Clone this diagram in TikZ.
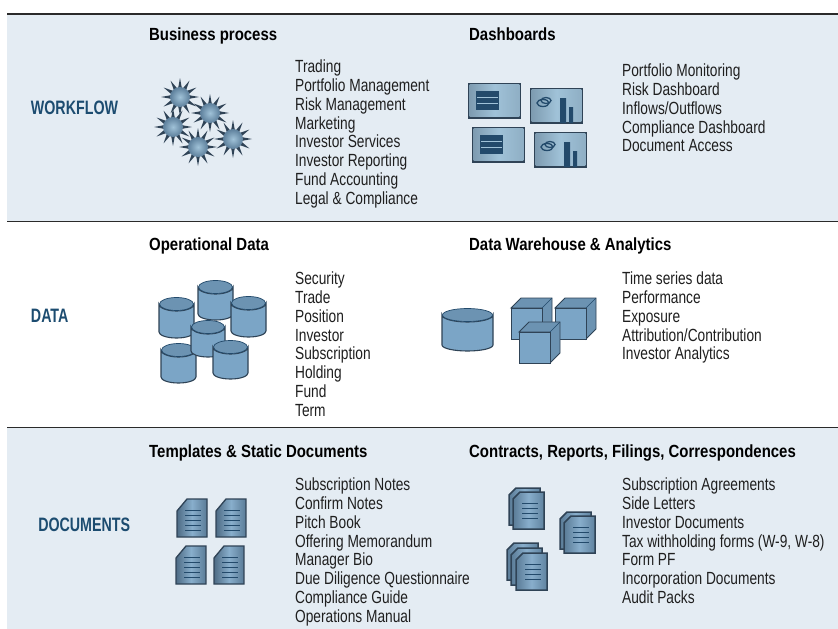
\documentclass[tikz,border=0pt]{standalone}
\usepackage{fontspec}
\setmainfont{Liberation Sans}
\usetikzlibrary{calc}
\definecolor{bandc}{HTML}{E4ECF3}
\definecolor{titlec}{HTML}{1C4C70}
\definecolor{darkc}{HTML}{2F4356}
\definecolor{midc}{HTML}{7BA5C6}
\definecolor{lidc}{HTML}{6C93B2}
\definecolor{lightc}{HTML}{A0C2D8}
\definecolor{linec}{HTML}{234A6B}
\definecolor{rulec}{HTML}{2A2A2A}
\tikzset{x=1pt,y=-1pt,
 head/.style={font=\fontsize{17.6}{20}\selectfont\bfseries,anchor=base west,inner sep=0,text=black,xscale=.85,transform shape},
 sect/.style={font=\fontsize{19.4}{20}\selectfont\bfseries,anchor=base,inner sep=0,text=titlec,xscale=.735,transform shape},
 items/.style={font=\fontsize{17.6}{18.75}\selectfont,anchor=north west,inner sep=0,align=left,text=black!88,xscale=.78,transform shape},
 rule/.style={draw=rulec,line width=1.1pt}}
\newcommand{\mystar}[2]{\begin{scope}[shift={(#1,#2)}]
 \fill[darkc] (0:19) \foreach \a in {30,60,...,330}{ -- (\a-15:8) -- (\a:19)} -- (345:8) -- cycle;
 \shade[inner color=lightc,outer color=lidc!75!darkc] (0,0) circle (10);
 \end{scope}}
\newcommand{\mydash}[3]{\begin{scope}[shift={(#1,#2)}]
 \fill[darkc] (0,0) rectangle (53,36);
 \shade[left color=lightc!70!darkc,right color=lightc!85!darkc,middle color=lightc] (1.7,1.7) rectangle (51.3,33.8);
 \ifnum#3=0
  \fill[linec] (7.5,8) rectangle (31,27);
  \draw[lightc,line width=.7pt] (9,14.5) -- (29.5,14.5) (9,20.5) -- (29.5,20.5);
 \else
  \draw[linec,line width=1.3pt] (13,15) ellipse (6 and 3.5);
  \draw[linec,line width=1.3pt] (16,12.5) ellipse (5 and 3);
  \fill[linec] (30,35) rectangle (36,10) (39,35) rectangle (43,19);
 \fi
 \end{scope}}
\newcommand{\mycyl}[4]{\begin{scope}[shift={(#1,#2)}]
 \def\w{#3}\def\h{#4}
 \filldraw[fill=midc,draw=darkc,line width=1.1pt] (-\w,0) -- (-\w,\h) arc[start angle=180,end angle=360,x radius=\w,y radius=-6] -- (\w,0) arc[start angle=0,end angle=180,x radius=\w,y radius=7] -- cycle;
 \filldraw[fill=lidc,draw=linec,line width=.7pt] (0,0) ellipse (\w-0.5 and 6.5);
 \end{scope}}
\newcommand{\mycube}[2]{\begin{scope}[shift={(#1,#2)}]
 \filldraw[fill=lidc,draw=darkc,line width=.9pt] (0,10) -- (10,0) -- (41,0) -- (41,31) -- (31,41) -- (31,10) -- cycle;
 \filldraw[fill=midc,draw=darkc,line width=.9pt] (0,10) rectangle (31,41);
 \draw[linec,line width=.6pt] (31,10) -- (41,0);
 \end{scope}}
\newcommand{\mydoc}[2]{\begin{scope}[shift={(#1,#2)}]
 \shade[left color=lidc!50!darkc,right color=lidc!70!darkc,middle color=midc!90!white,draw=darkc,line width=1.3pt] (10,0) -- (30,0) -- (30,38) -- (0,38) -- (0,12) -- cycle;
 \foreach \y in {11,16,21,26,31}{\draw[linec,line width=.9pt] (8,\y) -- (24,\y);}
 \end{scope}}
\newcommand{\mypage}[2]{\begin{scope}[shift={(#1,#2)}]
 \shade[left color=lidc!70!darkc,right color=lidc!80!darkc,middle color=midc!90!white,draw=darkc,line width=1.5pt] (7,0) -- (31,0) -- (31,37) -- (0,37) -- (0,7) -- cycle;
 \foreach \y in {11,16,21,26}{\draw[linec,line width=.9pt] (9,\y) -- (25,\y);}
 \end{scope}}
\begin{document}
\begin{tikzpicture}
\useasboundingbox (0,0) rectangle (838,629);
\fill[white] (0,0) rectangle (838,629);
\fill[bandc] (7,14) rectangle (838,221.5);
\fill[bandc] (7,428) rectangle (838,629);
\draw[rule] (7,14) -- (838,14);
\draw[rule] (7,221.6) -- (838,221.6);
\draw[rule] (7,427.8) -- (838,427.8);

\node[sect] (s1) at (74.5,114) {WORKFLOW};
\node[sect] (s2) at (49.7,322.7) {DATA};
\node[sect] (s3) at (84.2,531.7) {DOCUMENTS};

\node[head] (h1) at (149,40.7) {Business process};
\node[head] (h2) at (469,40.7) {Dashboards};
\node[head] (h3) at (149,250) {Operational Data};
\node[head] (h4) at (469,250) {Data Warehouse \& Analytics};
\node[head] (h5) at (149,457.7) {Templates \& Static Documents};
\node[head] (h6) at (469,457.7) {Contracts, Reports, Filings, Correspondences};

\node[items] (l1) at (295,60) {Trading\\Portfolio Management\\Risk Management\\Marketing\\Investor Services\\Investor Reporting\\Fund Accounting\\Legal \& Compliance};
\node[items] (l2) at (622,64) {Portfolio Monitoring\\Risk Dashboard\\Inflows/Outflows\\Compliance Dashboard\\Document Access};
\node[items] (l3) at (295,272) {Security\\Trade\\Position\\Investor\\Subscription\\Holding\\Fund\\Term};
\node[items] (l4) at (622,272) {Time series data\\Performance\\Exposure\\Attribution/Contribution\\Investor Analytics};
\node[items] (l5) at (295,478) {Subscription Notes\\Confirm Notes\\Pitch Book\\Offering Memorandum\\Manager Bio\\Due Diligence Questionnaire\\Compliance Guide\\Operations Manual};
\node[items] (l6) at (622,478) {Subscription Agreements\\Side Letters\\Investor Documents\\Tax withholding forms (W-9, W-8)\\Form PF\\Incorporation Documents\\Audit Packs};

\mystar{180}{97}\mystar{173}{127}\mystar{210}{113}\mystar{233}{139}\mystar{198}{147}
\mydash{468}{83}{0}\mydash{530}{88}{1}\mydash{472}{127}{0}\mydash{534}{132}{1}

\mycyl{215.5}{287}{17.5}{27}
\mycyl{248.5}{303}{17.5}{28}
\mycyl{176.5}{304}{17.5}{28}
\mycyl{178.5}{350}{17.5}{27}
\mycyl{208}{327}{17}{24}
\mycyl{230.5}{347}{17.5}{26}
\mycyl{467.5}{315}{25.5}{30}
\mycube{511}{298}\mycube{555}{298}\mycube{519}{322}

\mydoc{177}{499}\mydoc{216}{499}\mydoc{176}{546}\mydoc{214}{546}
\mypage{509}{488}\mypage{513}{492}
\mypage{560}{512}\mypage{564}{516}
\mypage{507}{543}\mypage{511}{548}\mypage{516}{553}
\end{tikzpicture}
\end{document}
